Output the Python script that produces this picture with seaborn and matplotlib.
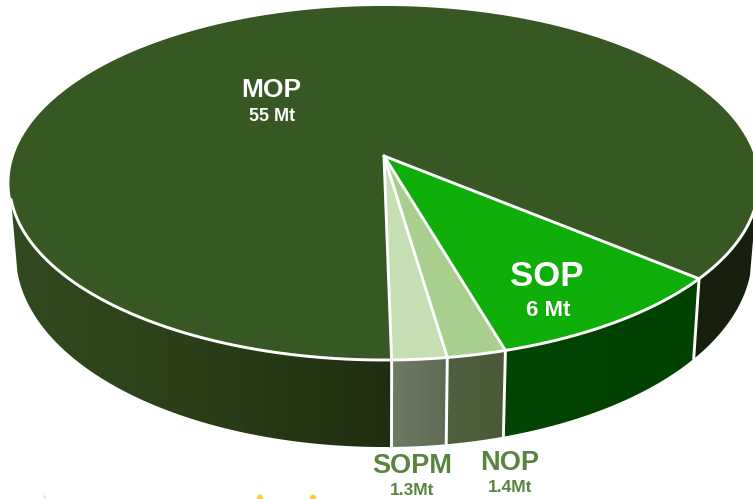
import numpy as np
import matplotlib
matplotlib.use("Agg")
import matplotlib.pyplot as plt
from matplotlib.path import Path
from matplotlib.patches import PathPatch, Ellipse
import seaborn as sns

# Data
categories = ["SOPM", "NOP", "SOP", "MOP"]
values = [1.3, 1.4, 6.0, 55.0]
value_labels = ["1.3Mt", "1.4Mt", "6 Mt", "55 Mt"]

# Style
top_colors = ["#c5deb2", "#a9cf8e", "#0fae08", "#375723"]
side_ramps = [["#6f7b63", "#5f6b55"], ["#4f603f", "#4a5a39"], ["#044404", "#004200"]]
mop_left_ramp = ["#1f2e10", "#2a3f18", "#324a1f"]
mop_right_color = "#171f0d"
label_green = "#5a8240"

sns.set_theme(style="white")
plt.rcParams["font.family"] = ["Liberation Sans", "DejaVu Sans"]

W, H = 753, 499
fig = plt.figure(figsize=(W / 100, H / 100), dpi=100)
ax = fig.add_axes([0, 0, 1, 1])
ax.set_xlim(0, W)
ax.set_ylim(H, 0)
ax.axis("off")

# Projection of a circular disc seen in perspective
X0, Y0, K, AY, BX = 384.0, 156.0, 0.1525, 172.9, 370.2
START = 1.0          # degrees from the nearest point, clockwise on screen
LEFT_END, RIGHT_END = 284.0, 75.0


def top(theta):
    t = np.radians(theta)
    u, v = np.sin(t), np.cos(t)
    s = 1 - K * v
    return X0 + BX * u / s, Y0 + AY * v / s


def bottom(theta):
    x, y = top(theta)
    v = np.cos(np.radians(theta))
    return X0 + (x - X0) * 0.983, y + 68 + 19 * v


def arc(a, b, f=top, n=None):
    n = n or max(int(abs(b - a) * 2), 2)
    return f(np.linspace(a, b, n))


def side_gradient(a, b, ramp, z):
    xt, yt = arc(a, b)
    xb, yb = arc(b, a, bottom)
    xs, ys = np.r_[xt, xb], np.r_[yt, yb]
    poly = np.c_[xs, ys]
    patch = PathPatch(Path(np.r_[poly, poly[:1]], closed=True), fc="none", ec="none")
    ax.add_patch(patch)
    cmap = sns.blend_palette(ramp, as_cmap=True)
    grad = np.linspace(0, 1, 256)[None, :]
    im = ax.imshow(grad, cmap=cmap, aspect="auto", zorder=z, interpolation="bilinear",
                   extent=[xs.min(), xs.max(), ys.max(), ys.min()])
    im.set_clip_path(patch)
    ax.set_xlim(0, W)
    ax.set_ylim(H, 0)


fractions = np.array(values) / np.sum(values) * 360
edges = START + np.r_[0, np.cumsum(fractions)]

# Sides
for i in range(3):
    side_gradient(edges[i], edges[i + 1], side_ramps[i], 1)
side_gradient(edges[3], RIGHT_END, [mop_right_color, mop_right_color], 1)
# left part of the MOP wall: lighter at the far left
side_gradient(LEFT_END, edges[4], mop_left_ramp[::-1], 1)

LW = 2.1
# Top wedges
for i, c in enumerate(top_colors):
    x, y = arc(edges[i], edges[i + 1])
    ax.fill(np.r_[X0, x], np.r_[Y0, y], color=c, lw=0, zorder=2)

# White outlines
wh = dict(color="white", lw=LW, zorder=3, solid_capstyle="round")
for e in edges[:4]:
    x, y = top(e)
    ax.plot([X0, x], [Y0, y], **wh)
    xb, yb = bottom(e)
    ax.plot([x, xb], [y, yb], **wh)
xr, yr = arc(LEFT_END, edges[4])
ax.plot(xr, yr, **wh)
xr, yr = arc(edges[0], RIGHT_END)
ax.plot(xr, yr, **wh)

# Labels
txt = dict(ha="center", va="center", fontweight="bold", zorder=5)
ax.text(271.5, 90, categories[3], color="white", fontsize=19, **txt)
ax.text(272, 116, value_labels[3], color="white", fontsize=13, **txt)
ax.text(547, 276, categories[2], color="white", fontsize=25, **txt)
ax.text(548, 311, value_labels[2], color="white", fontsize=16, **txt)
ax.text(412, 466, categories[0], color=label_green, fontsize=19.5, **txt)
ax.text(412, 490.5, value_labels[0], color=label_green, fontsize=12.5, **txt)
ax.text(510, 463, categories[1], color=label_green, fontsize=19.5, **txt)
ax.text(510, 488, value_labels[1], color=label_green, fontsize=12.5, **txt)

# Tops of cropped-off marks along the lower edge of the picture
for cx, col, w in [(260, "#fdc83f", 6), (313, "#fdc83f", 6), (45, "#d9d9d9", 1.5)]:
    ax.add_patch(Ellipse((cx, 499), w, 9, fc=col, ec="none", zorder=1))

fig.savefig("out.png", dpi=100, facecolor="white")
